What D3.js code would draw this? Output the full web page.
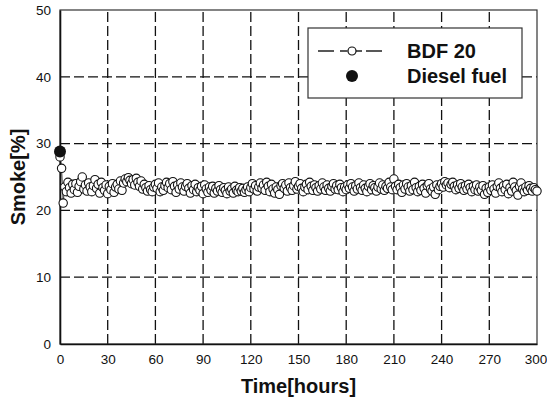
<!DOCTYPE html>
<html>
	<head>
		<meta charset="UTF-8">
		<title></title>
		<script src="https://cdn.jsdelivr.net/npm/d3@7" type="text/javascript" charset="utf-8"></script>
		<style>
			body { margin: 0; background: #fff; }
			text { font-family: "Liberation Sans", Arial, sans-serif; fill: #111; }
		</style>
		<script type="text/javascript">
			//BDF 20 运转时间（小时），每小时一个点
			var hours = d3.range(0, 301, 1);
			//BDF 20 烟度（%），每行 30 小时
			var bdf20 = [28.0, 26.3, 21.1, 23.5, 22.8, 24.2, 23.4, 22.6, 23.9, 23.1, 24.0, 22.7, 23.6, 24.3, 25.0, 23.2, 23.8, 22.9, 24.1, 23.5, 22.8, 23.7, 24.6, 23.3, 23.9, 22.6, 24.2, 23.4, 23.0, 23.8,
				22.5, 23.6, 23.1, 24.0, 22.7, 23.5, 23.9, 23.2, 24.4, 23.0, 24.1, 24.7, 24.3, 24.9, 24.5, 24.0, 24.6, 23.8, 24.8, 24.2, 23.6, 24.4, 23.2, 23.9, 23.4, 22.9, 23.7, 23.1, 22.8, 23.5,
				23.9, 23.3, 24.1, 22.8, 23.5, 23.0, 23.7, 24.2, 23.4, 24.0, 23.1, 24.3, 23.6, 22.7, 23.8, 23.2, 24.1, 23.5, 22.9, 23.6, 24.0, 23.3, 22.6, 23.7, 23.1, 23.9, 22.8, 23.4, 23.0, 23.6,
				22.5, 23.8, 23.2, 22.7, 23.5, 23.0, 23.6, 22.6, 23.3, 22.9, 23.7, 23.1, 22.7, 23.4, 23.0, 22.5, 23.5, 22.9, 23.2, 22.6, 23.6, 23.0, 22.8, 23.4, 22.9, 23.3, 22.7, 23.1, 23.5, 22.8,
				23.4, 24.0, 23.2, 23.7, 22.9, 23.5, 24.1, 23.3, 23.8, 23.0, 24.2, 23.6, 22.8, 23.9, 23.2, 22.6, 23.5, 23.1, 22.4, 23.7, 24.0, 23.3, 23.8, 22.9, 24.1, 23.4, 23.0, 23.7, 24.3, 23.2,
				23.6, 24.0, 23.3, 22.8, 23.5, 23.9, 23.1, 24.2, 23.6, 23.0, 23.8, 23.4, 22.9, 23.7, 23.2, 24.1, 23.5, 23.0, 23.8, 23.3, 22.9, 23.6, 24.0, 23.2, 23.7, 23.1, 23.9, 23.4, 22.8, 23.5,
				23.1, 23.8, 23.3, 24.0, 23.5, 22.9, 23.7, 23.2, 24.1, 23.4, 23.0, 23.8, 23.3, 22.8, 23.6, 24.0, 23.1, 23.7, 23.4, 22.9, 23.5, 24.1, 23.2, 23.8, 23.0, 23.6, 23.3, 24.2, 23.5, 23.1,
				24.7, 23.6, 23.1, 23.9, 23.4, 22.7, 23.8, 23.2, 24.0, 23.5, 22.9, 23.7, 23.1, 24.2, 23.4, 22.8, 23.6, 23.0, 23.9, 23.3, 22.6, 23.7, 24.0, 23.2, 22.9, 23.5, 22.4, 23.8, 23.1, 23.6,
				24.0, 23.5, 24.3, 23.8, 24.1, 23.4, 23.9, 24.2, 23.6, 23.1, 23.8, 23.3, 24.0, 23.5, 23.0, 23.7, 23.2, 23.9, 23.4, 22.8, 23.6, 23.1, 23.8, 22.9, 23.5, 23.0, 23.7, 22.4, 23.3, 22.7,
				23.5, 23.0, 23.8, 23.2, 22.6, 23.6, 24.1, 23.3, 22.8, 23.7, 23.1, 23.9, 22.5, 23.4, 22.9, 24.2, 23.5, 23.0, 22.3, 23.6, 24.1, 23.2, 22.8, 23.5, 23.0, 23.7, 23.3, 22.9, 23.4, 23.1,
				22.9];
			//柴油
			var dieselHours = [0];
			var diesel = [28.8];
			//刻度
			var xTicks = [0, 30, 60, 90, 120, 150, 180, 210, 240, 270, 300];
			var yTicks = [0, 10, 20, 30, 40, 50];
			//图例
			var legendNames = ["BDF 20", "Diesel fuel"];

			var width = 547;
			var height = 403;
			var padding = {top: 10, right: 10, bottom: 59, left: 60};

			var draw = function(){
				var svg = d3.select("body").append("svg")
					.attr("width", width)
					.attr("height", height);

				svg.append("rect")
					.attr("width", width)
					.attr("height", height)
					.attr("fill", "#fff");

				var x = d3.scaleLinear().domain([0, 300]).range([padding.left, width - padding.right]);
				var y = d3.scaleLinear().domain([0, 50]).range([height - padding.bottom, padding.top]);

				//网格线（虚线）
				svg.selectAll("line.vgrid")
					.data(xTicks.slice(1, -1))
					.enter().append("line")
					.attr("class", "vgrid")
					.attr("x1", function(d){ return x(d); })
					.attr("x2", function(d){ return x(d); })
					.attr("y1", y(0))
					.attr("y2", y(50))
					.attr("stroke", "#111")
					.attr("stroke-width", 1.3)
					.attr("stroke-dasharray", "10,4");
				svg.selectAll("line.hgrid")
					.data(yTicks.slice(1, -1))
					.enter().append("line")
					.attr("class", "hgrid")
					.attr("x1", x(0))
					.attr("x2", x(300))
					.attr("y1", function(d){ return y(d); })
					.attr("y2", function(d){ return y(d); })
					.attr("stroke", "#111")
					.attr("stroke-width", 1.3)
					.attr("stroke-dasharray", "10,4");

				//外框
				svg.append("rect")
					.attr("x", x(0))
					.attr("y", y(50))
					.attr("width", x(300) - x(0))
					.attr("height", y(0) - y(50))
					.attr("fill", "none")
					.attr("stroke", "#333")
					.attr("stroke-width", 1.2);

				//坐标轴
				var xAxis = d3.axisBottom(x).tickValues(xTicks).tickSize(0).tickPadding(10);
				var yAxis = d3.axisLeft(y).tickValues(yTicks).tickSize(0).tickPadding(9);
				var gx = svg.append("g").attr("transform", "translate(0," + y(0) + ")").call(xAxis);
				var gy = svg.append("g").attr("transform", "translate(" + x(0) + ",0)").call(yAxis);
				[gx, gy].forEach(function(g){
					g.select(".domain").attr("stroke", "#111").attr("stroke-width", 1.6);
					g.selectAll("text")
						.attr("font-family", "\"Liberation Sans\", Arial, sans-serif")
						.attr("font-size", "13.5px")
						.attr("fill", "#111");
				});
				//最后一个刻度贴近右边，稍微左移
				gx.selectAll(".tick text").filter(function(d){ return d === 300; }).attr("dx", "-1.5");

				//BDF 20 数据
				var pts = hours.map(function(h, i){ return [h, bdf20[i]]; });
				svg.append("path")
					.datum(pts)
					.attr("fill", "none")
					.attr("stroke", "#111")
					.attr("stroke-width", 0.8)
					.attr("d", d3.line()
						.x(function(d){ return x(d[0]); })
						.y(function(d){ return y(d[1]); }));
				svg.selectAll("circle.bdf")
					.data(pts)
					.enter().append("circle")
					.attr("class", "bdf")
					.attr("cx", function(d){ return x(d[0]); })
					.attr("cy", function(d){ return y(d[1]); })
					.attr("r", 4.2)
					.attr("fill", "#fff")
					.attr("stroke", "#111")
					.attr("stroke-width", 1.1);

				//柴油数据
				svg.selectAll("circle.diesel")
					.data(dieselHours.map(function(h, i){ return [h, diesel[i]]; }))
					.enter().append("circle")
					.attr("class", "diesel")
					.attr("cx", function(d){ return x(d[0]); })
					.attr("cy", function(d){ return y(d[1]); })
					.attr("r", 6)
					.attr("fill", "#111");

				//图例
				var lg = svg.append("g");
				lg.append("rect")
					.attr("x", 308).attr("y", 28)
					.attr("width", 214).attr("height", 70)
					.attr("fill", "#fff")
					.attr("stroke", "#333")
					.attr("stroke-width", 1.2);
				[[318, 334], [340, 347.5], [356, 362], [366, 382]].forEach(function(s){
					lg.append("line")
						.attr("x1", s[0]).attr("x2", s[1])
						.attr("y1", 51).attr("y2", 51)
						.attr("stroke", "#111").attr("stroke-width", 1.4);
				});
				lg.append("circle")
					.attr("cx", 352).attr("cy", 51).attr("r", 4)
					.attr("fill", "#fff").attr("stroke", "#111").attr("stroke-width", 1.2);
				lg.append("circle")
					.attr("cx", 352).attr("cy", 76).attr("r", 6)
					.attr("fill", "#111");
				lg.selectAll("text")
					.data(legendNames)
					.enter().append("text")
					.attr("x", 407)
					.attr("y", function(d, i){ return 58 + i * 25; })
					.attr("font-size", "20px")
					.attr("font-weight", "bold")
					.text(function(d){ return d; });

				//轴标题
				svg.append("text")
					.attr("x", (x(0) + x(300)) / 2)
					.attr("y", 393)
					.attr("text-anchor", "middle")
					.attr("font-size", "20px")
					.attr("font-weight", "bold")
					.text("Time[hours]");
				svg.append("text")
					.attr("transform", "translate(25," + (y(0) + y(50)) / 2 + ") rotate(-90)")
					.attr("text-anchor", "middle")
					.attr("font-size", "20px")
					.attr("font-weight", "bold")
					.text("Smoke[%]");
			}

			window.onload = function(){
				draw();
			};
		</script>
	</head>
	<body>
	</body>
</html>
